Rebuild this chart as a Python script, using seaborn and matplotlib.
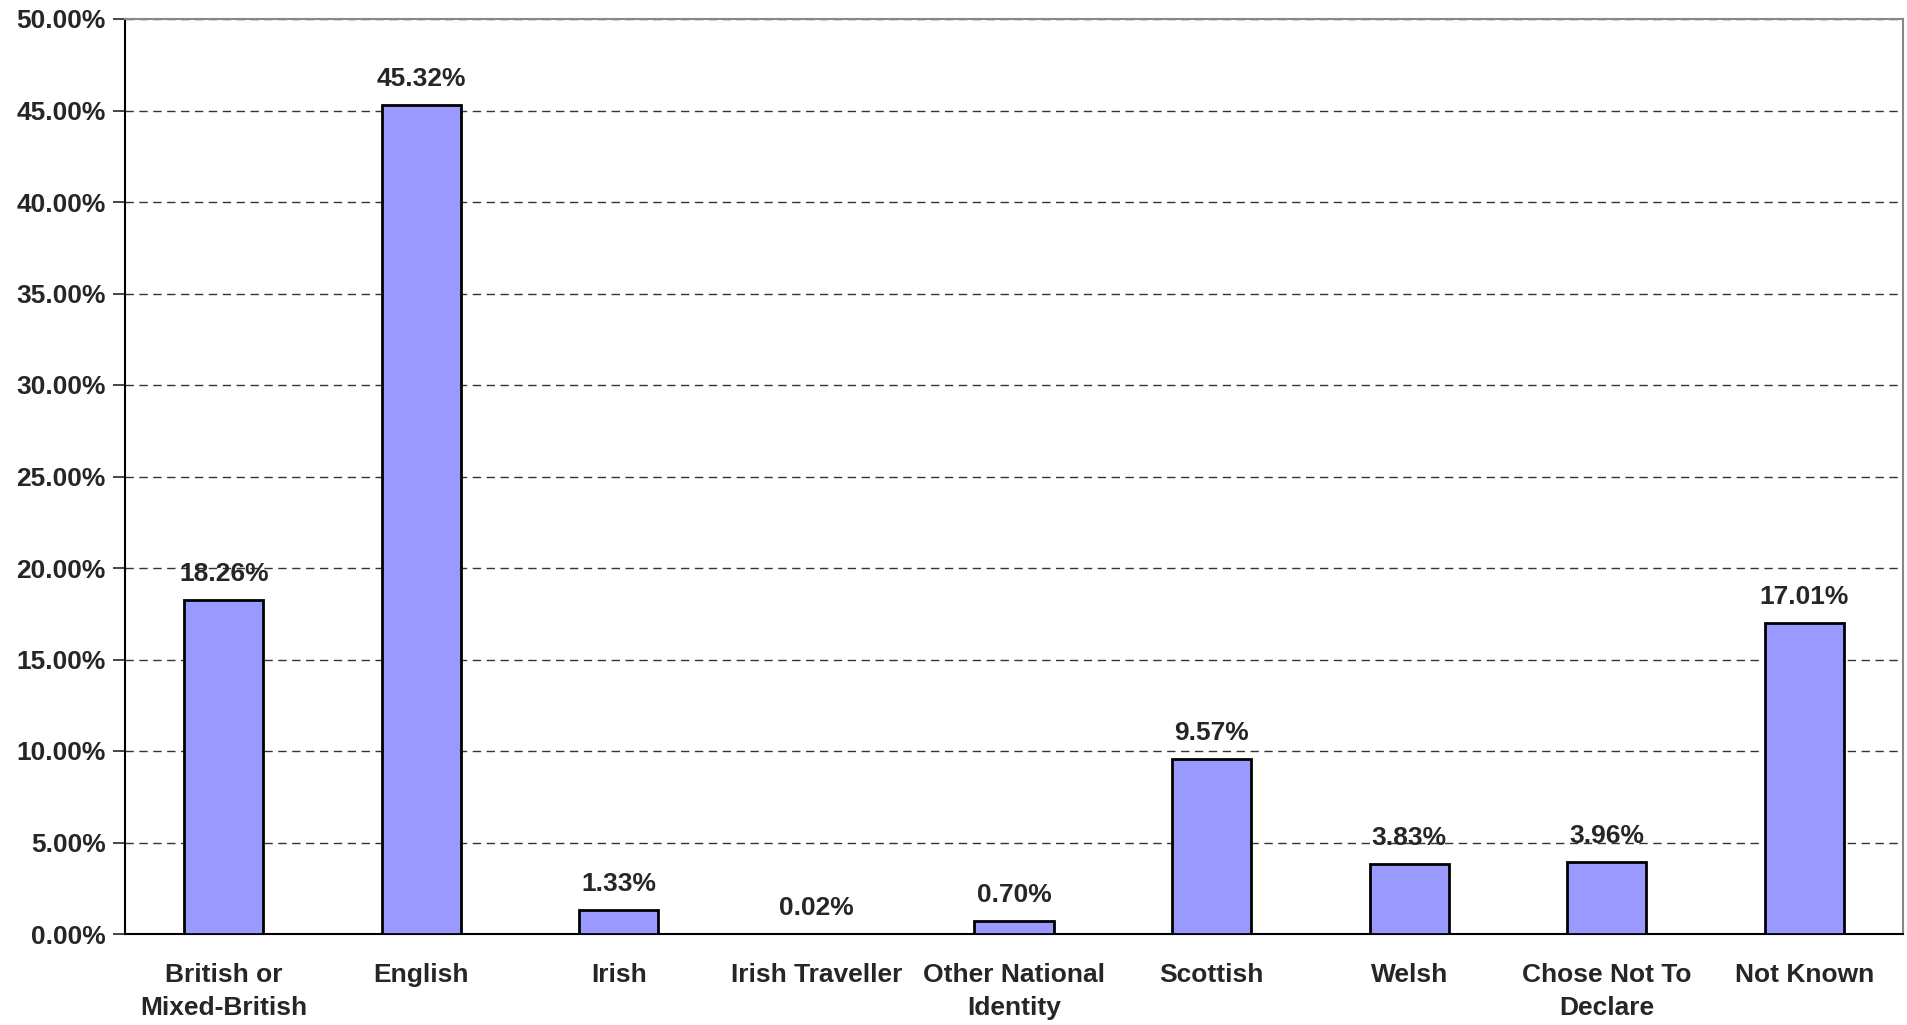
import matplotlib
matplotlib.use("Agg")
import matplotlib.pyplot as plt
import pandas as pd
import seaborn as sns
from matplotlib.ticker import FuncFormatter, MultipleLocator, FixedLocator

categories = ["British or\nMixed-British", "English", "Irish", "Irish Traveller",
              "Other National\nIdentity", "Scottish", "Welsh", "Chose Not To\nDeclare",
              "Not Known"]
percentages = [18.26, 45.32, 1.33, 0.02, 0.70, 9.57, 3.83, 3.96, 17.01]

df = pd.DataFrame({"identity": categories, "pct": percentages})

sns.set_style("white")
plt.rcParams["font.family"] = ["Liberation Sans", "DejaVu Sans"]
plt.rcParams["font.weight"] = "bold"

fig = plt.figure(figsize=(19.08, 10.25), dpi=100)
ax = fig.add_axes([125 / 1908, 1 - 934 / 1025, (1903 - 125) / 1908, (934 - 19) / 1025])

sns.barplot(data=df, x="identity", y="pct", color="#9999FF", saturation=1,
            width=0.4, edgecolor="black", linewidth=2, ax=ax, zorder=3)

ax.set_ylim(0, 50)
ax.set_xlim(-0.5, len(categories) - 0.5)
ax.yaxis.set_major_locator(MultipleLocator(5))
ax.yaxis.set_major_formatter(FuncFormatter(lambda v, p: f"{v:.2f}%"))
ax.grid(axis="y", linestyle=(0, (6, 4)), color="#333333", linewidth=1, zorder=0)
ax.set_axisbelow(True)

for bar, v in zip(ax.patches, percentages):
    ax.text(bar.get_x() + bar.get_width() / 2, v + 0.75, f"{v:.2f}%",
            ha="center", va="bottom", fontsize=19, fontweight="bold")

ax.xaxis.set_minor_locator(FixedLocator([i - 0.5 for i in range(len(categories) + 1)]))
ax.tick_params(axis="x", which="major", length=0, pad=21, labelsize=19)
ax.tick_params(axis="x", which="minor", length=9, width=1.2, color="#333333", direction="out")
ax.tick_params(axis="y", length=9, width=1.2, direction="out", labelsize=19, pad=5, left=True)
for lbl in ax.get_xticklabels():
    lbl.set_fontweight("bold")
    lbl.set_linespacing(1.45)
for lbl in ax.get_yticklabels():
    lbl.set_fontweight("bold")
ax.set_xlabel("")
ax.set_ylabel("")

for side in ["left", "bottom"]:
    ax.spines[side].set_color("black")
    ax.spines[side].set_linewidth(1.5)
for side in ["top", "right"]:
    ax.spines[side].set_color("#888888")
    ax.spines[side].set_linewidth(1.5)

fig.savefig("out.png", dpi=100)
